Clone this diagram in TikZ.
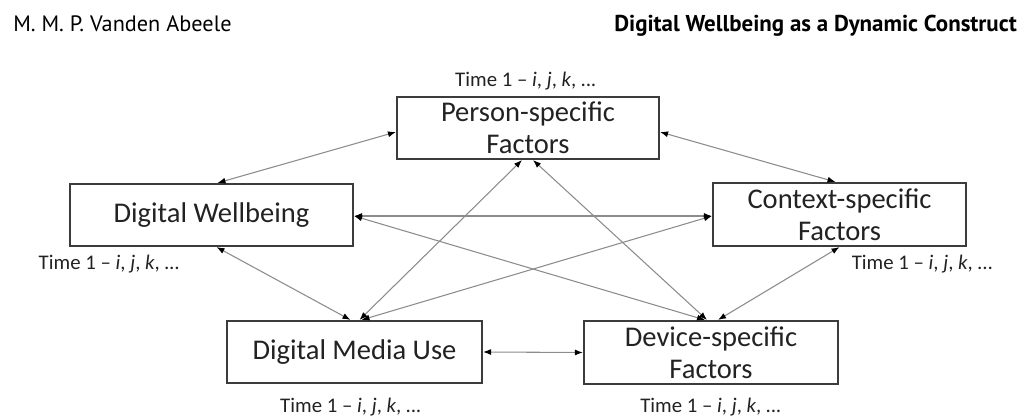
\documentclass[tikz,border=0pt]{standalone}
\usepackage{fontspec}
\setmainfont{Carlito}
\newfontfamily\headfont{PT Sans}
\usetikzlibrary{arrows.meta,calc}

\definecolor{boxline}{HTML}{3C3C3C}
\definecolor{linkgray}{HTML}{8C8C8C}
\definecolor{textdark}{HTML}{222222}

\tikzset{
  factor/.style={draw=boxline, line width=1.6pt, fill=white, text=textdark,
    align=center, inner sep=0pt,
    font=\fontsize{21.4}{24}\selectfont},
  timelabel/.style={anchor=base, text=textdark, inner sep=0pt,
    font=\fontsize{15.6}{18}\selectfont},
  header/.style={anchor=base, inner sep=0pt, text=black,
    font=\headfont\fontsize{16.7}{19}\selectfont},
  link/.style={draw=linkgray, line width=0.8pt,
    {Latex[black,length=6pt,width=4.5pt]}-{Latex[black,length=6pt,width=4.5pt]}}
}

\newcommand{\timetag}{Time 1 -- \textit{i}, \textit{j}, \textit{k}, \textit{...}}

\begin{document}
\begin{tikzpicture}[x=0.75pt, y=-0.75pt]
  \useasboundingbox (0,0) rectangle (1027,416);

  % running head
  \node[header, anchor=base west] (author) at (13,32) {M. M. P. Vanden Abeele};
  \node[header, anchor=base east, font=\headfont\bfseries\fontsize{17.2}{19}\selectfont]
    (title) at (1017,32) {Digital Wellbeing as a Dynamic Construct};

  % the five constructs
  \node[factor, minimum width=262*0.75pt, minimum height=62*0.75pt] (pf) at (528,128)
    {Person-specific\\Factors};
  \node[factor, minimum width=283*0.75pt, minimum height=62*0.75pt] (dw) at (211.5,215)
    {Digital Wellbeing};
  \node[factor, minimum width=253*0.75pt, minimum height=63*0.75pt] (cf) at (839.5,214.5)
    {Context-specific\\Factors};
  \node[factor, minimum width=255*0.75pt, minimum height=62*0.75pt] (dmu) at (354.5,352)
    {Digital Media Use};
  \node[factor, minimum width=254*0.75pt, minimum height=63*0.75pt] (df) at (711,352.5)
    {Device-specific\\Factors};

  % time indices
  \node[timelabel] (tpf)  at (526,87)    {\timetag};
  \node[timelabel] (tdw)  at (109.5,270) {\timetag};
  \node[timelabel] (tcf)  at (922.5,270) {\timetag};
  \node[timelabel] (tdmu) at (351,412)   {\timetag};
  \node[timelabel] (tdf)  at (711,412)   {\timetag};

  % reciprocal relations
  \draw[link] ($(pf.west)+(0,4)$) -- ($(dw.north)+(6,0)$);
  \draw[link] ($(pf.east)+(0,4)$) -- ($(cf.north)+(-4,0)$);
  \draw[link] ($(dw.east)+(0,1)$) -- ($(cf.west)+(0,1.5)$);
  \draw[link] ($(dw.east)+(0,1)$) -- ($(df.north)+(-6,0)$);
  \draw[link] ($(cf.west)+(0,1.5)$) -- ($(dmu.north)+(7,0)$);
  \draw[link] ($(pf.south)+(-6,0)$) -- ($(dmu.north)+(5,0)$);
  \draw[link] ($(pf.south)+(5,0)$) -- ($(df.north)+(-4,0)$);
  \draw[link] ($(dw.south)+(5,0)$) -- ($(dmu.north)+(-4,0)$);
  \draw[link] (cf.south) -- ($(df.north)+(7,0)$);
  \draw[link] (dmu.east) -- (df.west);
\end{tikzpicture}
\end{document}
